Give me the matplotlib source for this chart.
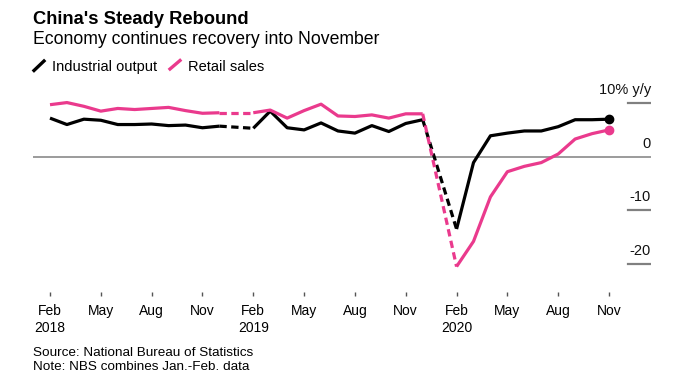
import numpy as np
import pandas as pd
import matplotlib.pyplot as plt
from matplotlib.lines import Line2D

plt.rcParams['font.family'] = ['Liberation Sans', 'DejaVu Sans']

W, H = 680, 382
BLACK = '#000000'
PINK = '#ea3a8d'
GRAY = '#808080'

# monthly, Jan-Feb combined by NBS so January is missing
months = pd.period_range('2018-02', '2020-11', freq='M')
industrial = [7.2, 6.0, 7.0, 6.8, 6.0, 6.0, 6.1, 5.8, 5.9, 5.4, 5.7,
              np.nan, 5.3, 8.5, 5.4, 5.0, 6.3, 4.8, 4.4, 5.8, 4.7, 6.2, 6.9,
              np.nan, -13.5, -1.1, 3.9, 4.4, 4.8, 4.8, 5.6, 6.9, 6.9, 7.0]
retail = [9.7, 10.1, 9.4, 8.5, 9.0, 8.8, 9.0, 9.2, 8.6, 8.1, 8.2,
          np.nan, 8.2, 8.7, 7.2, 8.6, 9.8, 7.6, 7.5, 7.8, 7.2, 8.0, 8.0,
          np.nan, -20.5, -15.8, -7.5, -2.8, -1.8, -1.1, 0.5, 3.3, 4.3, 5.0]
yticks = [10, 0, -10, -20]
ytick_labels = ['10% y/y', '0', '-10', '-20']


def fx(px):
    return px / W


def fy(py):
    return 1 - py / H


fig = plt.figure(figsize=(W / 100, H / 100), dpi=100)
ax = fig.add_axes([fx(33), fy(292), fx(651) - fx(33), fy(85) - fy(292)])

x = np.arange(len(months))
zero_px, per_unit = 156.7, 5.36
ax.set_xlim((33 - 50) / 16.94, (651 - 50) / 16.94)
ax.set_ylim((zero_px - 292) / per_unit, (zero_px - 85) / per_unit)

ax.axhline(0, color=GRAY, lw=1.1, zorder=1)
for v, lab in zip(yticks, ytick_labels):
    if v != 0:
        ax.axhline(v, xmin=0.962, xmax=1, color=GRAY, lw=1.6, zorder=1)
    ax.annotate(lab, xy=(1, v), xycoords=('axes fraction', 'data'),
                xytext=(0, 6.6), textcoords='offset points',
                ha='right', va='baseline', fontsize=10.5, color='#111111')

for vals, col in [(industrial, BLACK), (retail, PINK)]:
    y = np.array(vals, dtype=float)
    ax.plot(x, y, color=col, lw=2.3, zorder=3, solid_capstyle='butt')
    # dashed bridge across the missing January
    for i in np.where(np.isnan(y))[0]:
        ax.plot([x[i - 1], x[i + 1]], [y[i - 1], y[i + 1]], color=col, lw=2.3,
                linestyle=(0, (2.3, 1.4)), zorder=3)
    ax.plot(x[-1], y[-1], 'o', color=col, ms=6, zorder=4)

ticks = x[::3]
labels = [p.strftime('%b') + ('\n%d' % p.year if p.month == 2 else '')
          for p in months[::3]]
ax.set_xticks(ticks)
ax.set_xticklabels(labels, fontsize=10, linespacing=1.3)
ax.tick_params(axis='x', length=3, width=1, color='#555555', pad=5.5)
ax.set_yticks([])
for s in ax.spines.values():
    s.set_visible(False)

# title block
fig.text(fx(33), fy(24.5), "China's Steady Rebound", fontsize=13.2,
         fontweight='bold', va='baseline')
fig.text(fx(33), fy(44.5), 'Economy continues recovery into November',
         fontsize=12.7, va='baseline')

# legend with slash markers
for (x0, y0, x1, y1), col, lab, tx in [((34, 70.5, 44, 61), BLACK, 'Industrial output', 52),
                                       ((170, 69, 180, 60.5), PINK, 'Retail sales', 187.5)]:
    fig.add_artist(Line2D([fx(x0), fx(x1)], [fy(y0), fy(y1)], color=col, lw=2.4,
                          transform=fig.transFigure))
    fig.text(fx(tx), fy(71), lab, fontsize=10.5, va='baseline')

fig.text(fx(33), fy(356.5), 'Source: National Bureau of Statistics',
         fontsize=9.7, va='baseline')
fig.text(fx(33), fy(370), 'Note: NBS combines Jan.-Feb. data',
         fontsize=9.7, va='baseline')

fig.savefig('out.png', dpi=100)
